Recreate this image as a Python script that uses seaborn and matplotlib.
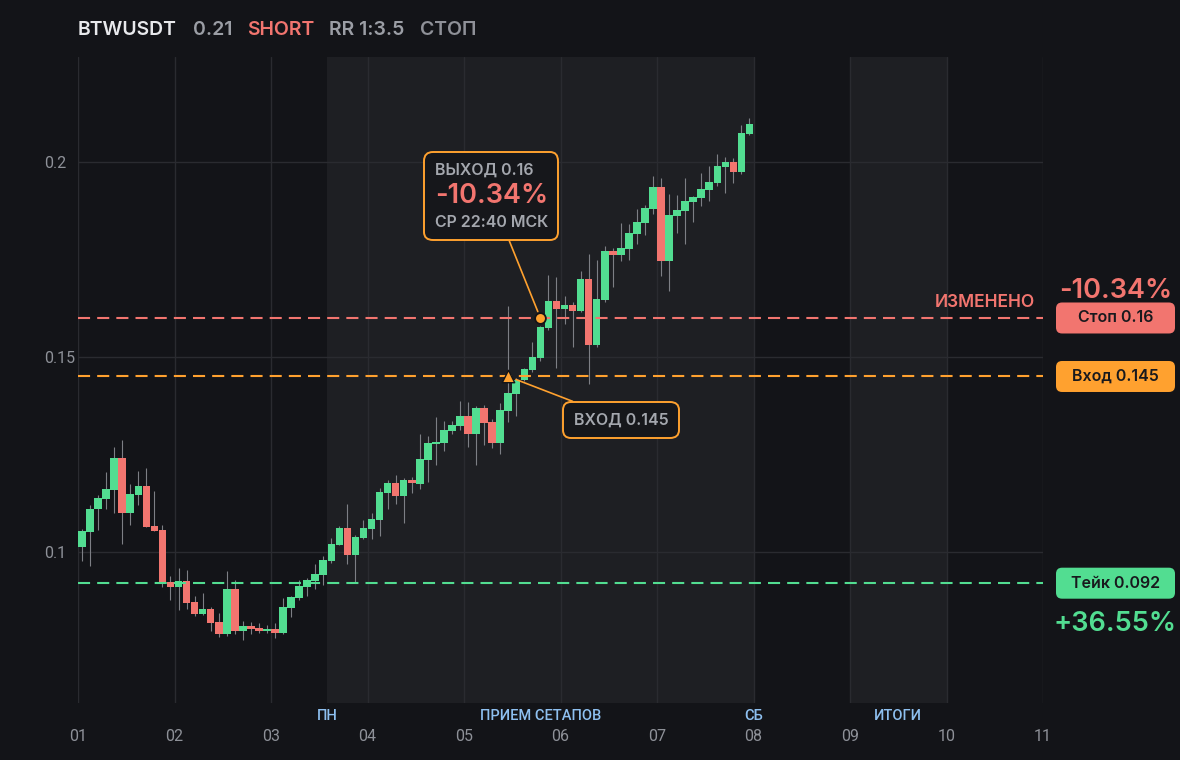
import numpy as np
import pandas as pd
import matplotlib
matplotlib.use("Agg")
import matplotlib.pyplot as plt
import seaborn as sns
from matplotlib.offsetbox import AnnotationBbox, TextArea, VPacker
from matplotlib.patches import BoxStyle
from matplotlib import transforms

# ---------------- data ----------------
symbol = "BTWUSDT"
last_price = "0.21"
side = "SHORT"
rr_text = "RR 1:3.5"
status_text = "СТОП"

# 2-hour candles, hours from day 01 00:00
candle_hours = list(range(0, 168, 2))
opens = [0.1014, 0.1052, 0.1109, 0.1137, 0.1160, 0.1241, 0.1101, 0.1147, 0.1169, 0.1067,
         0.1056, 0.0923, 0.0909, 0.0926, 0.0872, 0.0841, 0.0854, 0.0821, 0.0790, 0.0905,
         0.0798, 0.0810, 0.0805, 0.0798, 0.0803, 0.0792, 0.0857, 0.0882, 0.0910, 0.0926,
         0.0941, 0.0977, 0.1018, 0.1062, 0.0992, 0.1036, 0.1059, 0.1082, 0.1151, 0.1177,
         0.1143, 0.1185, 0.1174, 0.1236, 0.1277, 0.1279, 0.1310, 0.1323, 0.1349, 0.1303,
         0.1369, 0.1333, 0.1279, 0.1362, 0.1405, 0.1441, 0.1467, 0.1497, 0.1574, 0.1644,
         0.1623, 0.1634, 0.1619, 0.1700, 0.1531, 0.1646, 0.1772, 0.1762, 0.1777, 0.1815,
         0.1844, 0.1880, 0.1936, 0.1746, 0.1861, 0.1874, 0.1897, 0.1908, 0.1928, 0.1946,
         0.1987, 0.2000, 0.1974, 0.2072]
closes = [0.1054, 0.1110, 0.1139, 0.1162, 0.1241, 0.1101, 0.1149, 0.1169, 0.1065, 0.1055,
          0.0921, 0.0909, 0.0926, 0.0869, 0.0841, 0.0854, 0.0818, 0.0790, 0.0905, 0.0798,
          0.0810, 0.0803, 0.0798, 0.0803, 0.0792, 0.0859, 0.0885, 0.0913, 0.0928, 0.0944,
          0.0980, 0.1021, 0.1062, 0.0992, 0.1039, 0.1061, 0.1085, 0.1154, 0.1177, 0.1143,
          0.1185, 0.1176, 0.1238, 0.1279, 0.1282, 0.1313, 0.1326, 0.1349, 0.1303, 0.1369,
          0.1331, 0.1279, 0.1364, 0.1408, 0.1441, 0.1469, 0.1500, 0.1577, 0.1644, 0.1623,
          0.1634, 0.1619, 0.1700, 0.1531, 0.1649, 0.1772, 0.1762, 0.1780, 0.1818, 0.1846,
          0.1882, 0.1936, 0.1746, 0.1864, 0.1877, 0.1900, 0.1910, 0.1931, 0.1949, 0.1990,
          0.2000, 0.1974, 0.2074, 0.2097]
highs = [0.1059, 0.1121, 0.1146, 0.1205, 0.1269, 0.1287, 0.1174, 0.1208, 0.1215, 0.1156,
         0.1069, 0.0938, 0.0959, 0.0954, 0.0887, 0.0895, 0.0859, 0.0844, 0.0951, 0.0928,
         0.0823, 0.0821, 0.0818, 0.0813, 0.0818, 0.0882, 0.0887, 0.0928, 0.0933, 0.0969,
         0.0990, 0.1036, 0.1067, 0.1123, 0.1044, 0.1082, 0.1100, 0.1164, 0.1185, 0.1197,
         0.1190, 0.1192, 0.1303, 0.1297, 0.1346, 0.1336, 0.1336, 0.1387, 0.1385, 0.1374,
         0.1377, 0.1341, 0.1382, 0.1630, 0.1445, 0.1472, 0.1539, 0.1580, 0.1710, 0.1705,
         0.1656, 0.1640, 0.1721, 0.1765, 0.1749, 0.1785, 0.1780, 0.1844, 0.1841, 0.1880,
         0.1890, 0.1964, 0.1959, 0.1918, 0.1915, 0.1959, 0.1913, 0.1972, 0.1990, 0.2020,
         0.2013, 0.2010, 0.2095, 0.2113]
lows = [0.0978, 0.0965, 0.1057, 0.1111, 0.1101, 0.1021, 0.1070, 0.1121, 0.1065, 0.1053,
        0.0911, 0.0877, 0.0851, 0.0854, 0.0836, 0.0838, 0.0798, 0.0782, 0.0785, 0.0790,
        0.0775, 0.0790, 0.0792, 0.0792, 0.0780, 0.0790, 0.0833, 0.0877, 0.0887, 0.0905,
        0.0915, 0.0972, 0.1018, 0.0969, 0.0920, 0.1033, 0.1033, 0.1041, 0.1110, 0.1123,
        0.1074, 0.1151, 0.1161, 0.1179, 0.1223, 0.1259, 0.1303, 0.1313, 0.1269, 0.1223,
        0.1274, 0.1267, 0.1251, 0.1333, 0.1349, 0.1438, 0.1462, 0.1490, 0.1570, 0.1472,
        0.1585, 0.1526, 0.1615, 0.1431, 0.1525, 0.1640, 0.1680, 0.1746, 0.1749, 0.1790,
        0.1813, 0.1867, 0.1708, 0.1669, 0.1818, 0.1790, 0.1846, 0.1887, 0.1900, 0.1938,
        0.1920, 0.1946, 0.1970, 0.2068]

day_ticks = [1, 2, 3, 4, 5, 6, 7, 8, 9, 10, 11]
day_labels = ["01", "02", "03", "04", "05", "06", "07", "08", "09", "10", "11"]
price_ticks = [0.1, 0.15, 0.2]
price_labels = ["0.1", "0.15", "0.2"]

stop_price = 0.16
entry_price = 0.145
take_price = 0.092
entry_idx = 53
exit_idx = 57
exit_price = 0.16
exit_lines = ["ВЫХОД 0.16", "-10.34%", "СР 22:40 МСК"]
entry_label = "ВХОД 0.145"
stop_label = "Стоп 0.16"
entry_box_label = "Вход 0.145"
take_label = "Тейк 0.092"
stop_pct = "-10.34%"
take_pct = "+36.55%"
changed_label = "ИЗМЕНЕНО"

# sessions (hours from day 01 00:00)
session_spans = [(62, 168), (192, 216)]
session_marks = [("ПН", 62), ("ПРИЕМ СЕТАПОВ", 115), ("СБ", 168), ("ИТОГИ", 204)]

# ---------------- style ----------------
BG = "#131418"
SHADE = "#1e1f23"
GRID = "#2a2b30"
GREEN = "#52dd91"
RED = "#f2756f"
ORANGE = "#ffa12f"
WICK = "#7d7f85"
TICK = "#8e9198"
GRAYTXT = "#a4a7ae"
BLUE = "#8ec0f0"

sns.set_theme(style="dark", rc={"axes.facecolor": BG, "figure.facecolor": BG,
                                "savefig.facecolor": BG, "axes.edgecolor": BG})
plt.rcParams["font.family"] = ["Inter", "DejaVu Sans"]

df = pd.DataFrame({"hour": candle_hours, "open": opens, "high": highs,
                   "low": lows, "close": closes})
df["x"] = 1 + (df["hour"] + 1) / 24.0
df["up"] = df["close"] >= df["open"]
df["bottom"] = df[["open", "close"]].min(axis=1)
df["height"] = (df["close"] - df["open"]).abs().clip(lower=0.0004)

W, H = 1180, 760
fig = plt.figure(figsize=(W / 100, H / 100), dpi=100)
ax = fig.add_axes([78 / W, 1 - 703 / H, 965 / W, (703 - 57) / H])
ax.set_facecolor(BG)
ax.set_xlim(1, 11)
ax.set_ylim(0.06128, 0.22692)
for s in ax.spines.values():
    s.set_visible(False)

for a, b in session_spans:
    ax.axvspan(1 + a / 24, 1 + b / 24, color=SHADE, lw=0, zorder=0)

ax.set_xticks(day_ticks, day_labels)
ax.set_yticks(price_ticks, price_labels)
ax.grid(True, color=GRID, lw=1)
ax.set_axisbelow(True)
ax.tick_params(axis="x", length=0, pad=18.5, labelcolor=TICK, labelsize=11.5)
ax.tick_params(axis="y", length=0, pad=24.5, labelcolor=TICK, labelsize=11.5)
for t in ax.get_xticklabels() + ax.get_yticklabels():
    t.set_family(["Roboto", "DejaVu Sans"])
    t.set_fontweight("normal")
for t in ax.get_yticklabels():
    t.set_ha("left")

# candles
ax.vlines(df["x"], df["low"], df["high"], color=WICK, lw=0.8, zorder=2)
ax.bar(df["x"], df["height"], bottom=df["bottom"], width=0.079,
       color=np.where(df["up"], GREEN, RED), lw=0, zorder=3)

dash = (0, (5.8, 3.4))
ax.axhline(stop_price, color=RED, ls=dash, lw=1.5, zorder=4)
ax.axhline(entry_price, color=ORANGE, ls=dash, lw=1.5, zorder=4)
ax.axhline(take_price, color=GREEN, ls=dash, lw=1.5, zorder=4)

ex = df["x"].iloc[exit_idx]
en = df["x"].iloc[entry_idx]
sns.scatterplot(x=[ex], y=[exit_price], marker="o", s=60, color=ORANGE,
                edgecolor=BG, linewidth=1.3, zorder=7, ax=ax, legend=False)
sns.scatterplot(x=[en], y=[entry_price], marker="^", s=80, color=ORANGE,
                edgecolor=BG, linewidth=1.0, zorder=7, ax=ax, legend=False)

# exit callout
t1 = TextArea(exit_lines[0], textprops=dict(color=GRAYTXT, fontsize=11.5, fontweight="semibold"))
t2 = TextArea(exit_lines[1], textprops=dict(color=RED, fontsize=19.5, fontweight="semibold"))
t3 = TextArea(exit_lines[2], textprops=dict(color=GRAYTXT, fontsize=11.5, fontweight="semibold"))
pack = VPacker(children=[t1, t2, t3], align="left", pad=0, sep=4)
ab = AnnotationBbox(pack, (ex, exit_price), xybox=(-35.3, 87.5), boxcoords="offset points",
                    fontsize=10, pad=0.75,
                    bboxprops=dict(boxstyle="round,pad=0.75,rounding_size=0.6", fc="#16171b",
                                   ec=ORANGE, lw=1.4),
                    arrowprops=dict(arrowstyle="-", color=ORANGE, lw=1.2, shrinkA=0, shrinkB=5),
                    zorder=8)
ax.add_artist(ab)

te = TextArea(entry_label, textprops=dict(color=GRAYTXT, fontsize=11.5, fontweight="semibold"))
ab2 = AnnotationBbox(te, (en, entry_price), xybox=(81.1, -31.3), boxcoords="offset points",
                     fontsize=10, pad=0.75,
                     bboxprops=dict(boxstyle="round,pad=0.75,rounding_size=0.6", fc="#16171b",
                                    ec=ORANGE, lw=1.4),
                     arrowprops=dict(arrowstyle="-", color=ORANGE, lw=1.2, shrinkA=0, shrinkB=6),
                     zorder=8)
ax.add_artist(ab2)

# right side price tags
def fixed_box(x0, y0, width, height, mutation_size):
    bw, bh = 119.0, 31.0
    cx, cy = x0 + width / 2, y0 + height / 2
    return BoxStyle.Round(pad=0, rounding_size=0.38)(cx - bw / 2, cy - bh / 2, bw, bh, mutation_size)

yt = transforms.blended_transform_factory(ax.transAxes, ax.transData)
for label, price, col in [(stop_label, stop_price, RED), (entry_box_label, entry_price, ORANGE),
                          (take_label, take_price, GREEN)]:
    ax.annotate(label, xy=(1, price), xycoords=yt, xytext=(52.2, 0), textcoords="offset points",
                ha="center", va="center", fontsize=11.5, fontweight="semibold", color="#18191d",
                bbox=dict(boxstyle=fixed_box, fc=col, ec="none"), annotation_clip=False, zorder=9)

ax.annotate(stop_pct, xy=(1, stop_price), xycoords=yt, xytext=(52.2, 19.5), textcoords="offset points",
            ha="center", va="center", fontsize=19.5, fontweight="semibold", color=RED,
            annotation_clip=False)
ax.annotate(take_pct, xy=(1, take_price), xycoords=yt, xytext=(52.2, -29.5), textcoords="offset points",
            ha="center", va="center", fontsize=19.5, fontweight="semibold", color=GREEN,
            annotation_clip=False)
ax.annotate(changed_label, xy=(1, stop_price), xycoords=yt, xytext=(-5.8, 11.0),
            textcoords="offset points", ha="right", va="center", fontsize=12.5,
            fontweight="semibold", color=RED, annotation_clip=False)

# session labels under the axis
xt = transforms.blended_transform_factory(ax.transData, ax.transAxes)
for label, hr in session_marks:
    ax.text(1 + hr / 24, -0.0201, label, transform=xt, ha="center", va="center",
            fontsize=10.5, fontweight="medium", color=BLUE, family=["Roboto", "DejaVu Sans"])

# header
hy = 1 - 30 / H
fig.text(78 / W, hy, symbol, color="#e8e9ec", fontsize=14, fontweight="semibold", va="center")
fig.text(193 / W, hy, last_price, color="#9b9ea5", fontsize=14, fontweight="semibold", va="center")
fig.text(247 / W, hy, side, color=RED, fontsize=14, fontweight="semibold", va="center")
fig.text(329 / W, hy, rr_text, color="#9b9ea5", fontsize=14, fontweight="semibold", va="center")
fig.text(420 / W, hy, status_text, color="#8f9198", fontsize=14, fontweight="semibold", va="center")

fig.savefig("out.png", dpi=100, facecolor=BG)
